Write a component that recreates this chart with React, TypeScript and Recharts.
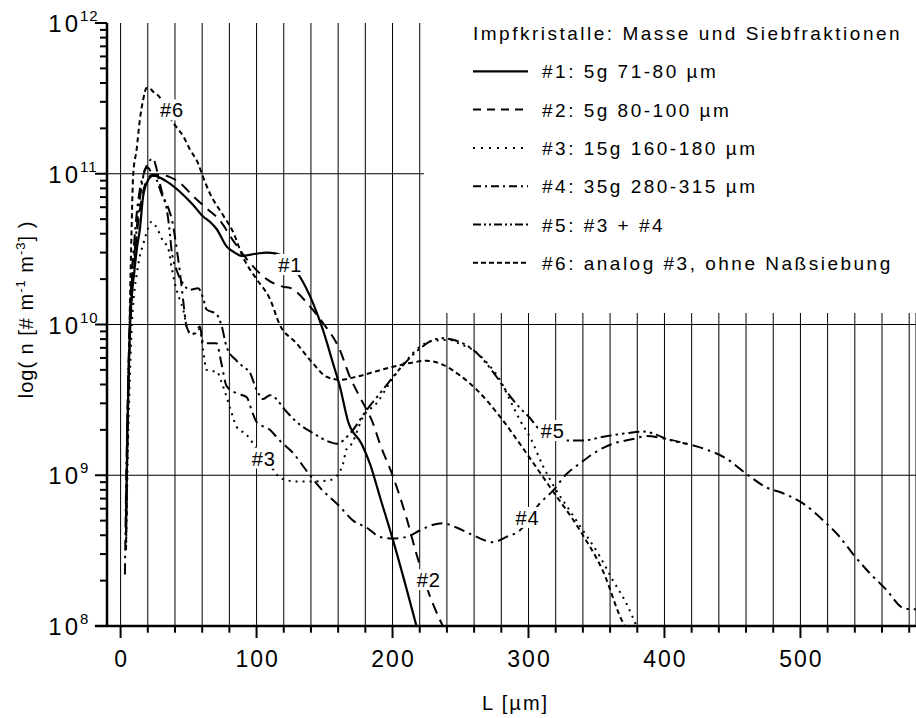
import React from 'react';
import {
  LineChart,
  Line,
  XAxis,
  YAxis,
  CartesianGrid,
  ReferenceLine,
  ReferenceDot,
  Legend,
} from 'recharts';

const FONT = '"Liberation Sans", Arial, Helvetica, sans-serif';

// ---- data: [L (µm), n (# m^-1 m^-3)] ----
const s1: [number, number][] = [
  [4, 5.0e8], [5, 2.0e9], [6, 5.0e9], [7, 1.0e10], [8, 1.45e10], [10, 2.2e10], [12, 3.2e10],
  [14.2, 4.3e10], [16.6, 7.1e10], [20.3, 9.1e10], [24, 9.7e10], [28, 9.5e10], [33.8, 8.9e10],
  [43.6, 7.6e10], [53.4, 6.2e10], [60.7, 5.2e10], [65.7, 4.8e10], [70.6, 4.3e10], [77.9, 3.3e10],
  [84, 3.0e10], [89, 2.85e10], [100, 2.95e10], [107, 3.0e10], [114.7, 2.95e10], [131.8, 2.08e10],
  [141.6, 1.38e10], [149, 9.1e9], [156.3, 5.5e9], [161.2, 3.9e9], [167.4, 2.26e9], [177.2, 1.62e9],
  [183.3, 1.2e9], [190.7, 7.2e8], [200.4, 3.7e8], [217.6, 1.0e8],
];

const s2: [number, number][] = [
  [4, 4.0e8], [5, 1.6e9], [6, 4.5e9], [7, 8.9e9], [8, 1.4e10], [10, 2.5e10], [12, 4.0e10],
  [14, 5.6e10], [17, 7.9e10], [20, 9.3e10], [23, 9.8e10], [26.5, 9.8e10], [30, 9.8e10],
  [36.3, 9.5e10], [43.6, 8.7e10], [53.4, 7.1e10], [63.2, 5.9e10], [73, 4.9e10], [82.8, 3.6e10],
  [95, 2.57e10], [107.4, 2.0e10], [119.6, 1.78e10], [124.6, 1.75e10], [139.2, 1.32e10],
  [149, 1.02e10], [161.2, 6.8e9], [168.6, 4.5e9], [176, 3.3e9], [185.7, 2.2e9], [190.7, 1.62e9],
  [200.4, 9.8e8], [210.3, 5.2e8], [217.6, 3.0e8], [225, 1.82e8], [234.8, 1.1e8], [237, 1.0e8],
];

const s3: [number, number][] = [
  [4, 3.2e8], [5, 1.0e9], [6, 2.5e9], [7, 5.0e9], [8, 8.9e9], [10, 1.6e10], [12, 2.2e10],
  [14, 2.8e10], [17, 3.5e10], [20, 4.3e10], [22.8, 4.8e10], [27.6, 4.2e10], [31, 3.6e10],
  [35, 3.2e10], [37.5, 2.4e10], [40, 1.86e10], [43.6, 1.45e10], [46, 1.26e10], [48.5, 9.8e9],
  [52, 8.5e9], [55, 8.9e9], [58, 9.3e9], [60.7, 6.8e9], [63.2, 5.0e9], [67, 4.9e9], [70.6, 4.9e9],
  [74, 4.2e9], [78, 3.3e9], [81.6, 2.6e9], [85.3, 2.1e9], [92.6, 1.86e9], [100, 1.5e9],
  [106, 1.26e9], [112, 1.1e9], [118, 9.5e8], [130, 9.1e8], [141.6, 9.1e8], [154, 9.3e8],
  [160, 1.02e9], [163.7, 1.2e9], [166, 1.48e9], [170, 1.62e9], [178.4, 2.45e9], [188.2, 3.0e9],
  [198, 4.1e9], [210, 5.75e9], [220, 7.1e9], [230, 7.8e9], [242, 7.9e9], [250, 7.4e9],
  [259, 6.8e9], [270, 5.5e9], [279, 4.3e9], [286, 3.2e9], [294, 2.3e9], [301, 1.8e9],
  [310.7, 1.15e9], [320.6, 7.9e8], [330, 5.9e8], [337.9, 4.6e8], [352.4, 2.9e8], [362.2, 2.0e8],
  [372, 1.41e8], [379.4, 1.0e8],
];

const s4: [number, number][] = [
  [3.2, 2.2e8], [4, 7.9e8], [5, 2.5e9], [6, 6.3e9], [7, 1.26e10], [8, 2.0e10], [10, 3.5e10],
  [12, 5.6e10], [14.2, 7.9e10], [17, 1.0e11], [20, 1.17e11], [24, 1.26e11], [26, 1.12e11],
  [28.5, 8.9e10], [31.3, 7.1e10], [34.9, 6.0e10], [38.5, 4.6e10], [41.2, 3.2e10], [43.7, 2.2e10],
  [46, 1.45e10], [48.5, 9.7e9], [52, 8.7e9], [54.6, 8.7e9], [58.3, 9.7e9], [60.7, 7.5e9],
  [65.7, 7.5e9], [70.6, 7.5e9], [74, 5.6e9], [78, 3.9e9], [85.3, 3.5e9], [92.6, 3.3e9],
  [97, 2.6e9], [100, 2.26e9], [109.8, 2.0e9], [117, 1.7e9], [127, 1.4e9], [136.8, 1.07e9],
  [146.5, 8.3e8], [161.2, 6.2e8], [171, 5.0e8], [180.9, 4.5e8], [190.7, 3.9e8], [200.4, 3.8e8],
  [210.3, 3.9e8], [220, 4.3e8], [229.9, 4.7e8], [237.2, 4.8e8], [247, 4.5e8], [259.3, 4.0e8],
  [274, 3.6e8], [283.8, 3.9e8], [293.6, 4.3e8], [308.3, 6.5e8], [318, 7.9e8], [328, 1.02e9],
  [337.9, 1.2e9], [352.4, 1.48e9], [362.2, 1.62e9], [376.9, 1.74e9], [386.8, 1.82e9],
  [401.5, 1.74e9], [416.2, 1.62e9], [430.9, 1.48e9], [445.6, 1.29e9], [460.3, 1.02e9],
  [475, 8.3e8], [487.2, 7.6e8], [501.9, 6.5e8], [519, 4.8e8], [528.9, 3.9e8], [538.7, 3.0e8],
  [551, 2.24e8], [563.2, 1.74e8], [575.4, 1.32e8], [582.8, 1.29e8], [585, 1.29e8],
];

const s5: [number, number][] = [
  [4, 4.0e8], [5, 2.0e9], [6, 5.6e9], [7, 1.12e10], [8, 1.78e10], [10, 2.8e10], [12, 4.5e10],
  [14, 6.6e10], [16, 8.9e10], [18, 1.07e11], [20, 1.1e11], [23, 1.0e11], [26.5, 9.1e10],
  [30, 7.4e10], [33.8, 5.9e10], [36.3, 4.0e10], [37.5, 3.1e10], [41.2, 2.3e10], [46, 1.86e10],
  [51, 1.7e10], [57, 1.74e10], [60.7, 1.5e10], [63.2, 1.26e10], [70.6, 1.17e10], [74.3, 9.8e9],
  [78, 7.1e9], [85.3, 5.75e9], [90.1, 5.25e9], [95, 4.8e9], [100, 3.7e9], [104.9, 3.2e9],
  [109.8, 3.4e9], [114.7, 3.2e9], [119.6, 2.8e9], [124.5, 2.5e9], [129.4, 2.26e9],
  [141.6, 1.9e9], [153.9, 1.66e9], [158.8, 1.62e9], [168.9, 1.9e9], [180.9, 2.7e9],
  [193, 3.7e9], [203, 4.8e9], [220, 6.9e9], [229.9, 7.9e9], [237.2, 8.1e9], [247, 7.8e9],
  [259.3, 6.8e9], [276.5, 4.5e9], [283.8, 3.6e9], [293.6, 2.8e9], [301, 2.4e9], [308.3, 2.0e9],
  [328, 1.7e9], [340, 1.7e9], [354.9, 1.8e9], [372, 1.9e9], [384.3, 1.95e9], [394, 1.86e9],
  [401.5, 1.74e9], [416.2, 1.62e9],
];

const s6: [number, number][] = [
  [4, 3.2e8], [5, 1.6e9], [6, 5.0e9], [7, 1.58e10], [8, 4.0e10], [9.3, 1.0e11], [11.8, 1.45e11],
  [14.2, 2.3e11], [16.6, 3.1e11], [19.1, 3.7e11], [21, 3.7e11], [24, 3.5e11], [28.9, 3.2e11],
  [33, 2.7e11], [37, 2.3e11], [40, 2.1e11], [46, 1.78e11], [51, 1.45e11], [57, 1.17e11],
  [60.7, 9.5e10], [65.7, 7.4e10], [75.4, 5.3e10], [82.8, 4.1e10], [90, 2.8e10], [100, 2.0e10],
  [109.8, 1.48e10], [117, 1.0e10], [129.4, 7.5e9], [141.6, 5.5e9], [151.5, 4.5e9],
  [161.2, 4.3e9], [173.5, 4.5e9], [188.2, 4.9e9], [200.4, 5.25e9], [215.1, 5.6e9],
  [225, 5.75e9], [237.2, 5.4e9], [249.5, 4.6e9], [261.8, 3.7e9], [279, 2.45e9], [298.5, 1.4e9],
  [316, 8.3e8], [337.9, 4.3e8], [354.9, 2.3e8], [369.6, 1.05e8], [371, 1.0e8],
];

const seriesNames = [
  '#1: 5g 71-80 µm',
  '#2: 5g 80-100 µm',
  '#3: 15g 160-180 µm',
  '#4: 35g 280-315 µm',
  '#5: #3 + #4',
  '#6: analog #3, ohne Naßsiebung',
];
const legendTitle = 'Impfkristalle: Masse und Siebfraktionen';

const curveLabels = [
  { text: '#6', L: 37.5, n: 2.65e11 },
  { text: '#1', L: 124.5, n: 2.5e10 },
  { text: '#3', L: 105, n: 1.3e9 },
  { text: '#2', L: 226.3, n: 2.03e8 },
  { text: '#4', L: 299, n: 5.25e8 },
  { text: '#5', L: 317.5, n: 1.98e9 },
];

const xTicks = [0, 20, 40, 60, 80, 100, 120, 140, 160, 180, 200, 220, 240, 260, 280, 300, 320, 340, 360, 380, 400, 420, 440, 460, 480, 500, 520, 540, 560, 580];
const yDecades = [8, 9, 10, 11, 12];
const yGridLines = [1e9, 1e10, 1e11];

// ---- styles ----
const lineDash = ['', '11 7', '2 5', '11 5 2.5 5', '11 4 2.5 4 2.5 4', '5 3.5'];
const legendDash = ['', '8 6', '2 6', '8 4 2 4', '8 3 2 3 2 3', '5 3'];
const seriesData = [s1, s2, s3, s4, s5, s6].map((s) => s.map(([L, n]) => ({ L, n })));

const yTicks: number[] = [];
yDecades.forEach((d) => {
  if (d === 12) {
    yTicks.push(1e12);
    return;
  }
  for (let m = 1; m <= 9; m++) yTicks.push(m * Math.pow(10, d));
});

const Y_TICK_SIZE = 12;
const Y_TICK_MARGIN = 16;
const X_TICK_SIZE = 12;
const X_TICK_MARGIN = 12;

const YTick = (props: any) => {
  const { x, y, payload } = props;
  const v = payload.value as number;
  const axisX = x + Y_TICK_SIZE + Y_TICK_MARGIN;
  const exp = Math.round(Math.log10(v));
  const isMajor = Math.abs(v - Math.pow(10, exp)) < v * 1e-6;
  if (!isMajor) {
    return <line x1={axisX - 7} x2={axisX} y1={y} y2={y} stroke="#000" strokeWidth={2} />;
  }
  return (
    <g>
      <line x1={axisX - 12} x2={axisX} y1={y} y2={y} stroke="#000" strokeWidth={2} />
      <text x={x + 2} y={y + 9} textAnchor="end" fontSize={24} letterSpacing={3} fontFamily={FONT} fill="#000">
        10
      </text>
      <text x={x + 1} y={y - 2} textAnchor="start" fontSize={15} letterSpacing={1} fontFamily={FONT} fill="#000">
        {exp}
      </text>
    </g>
  );
};

const XTick = (props: any) => {
  const { x, y, payload } = props;
  const v = payload.value as number;
  const axisY = y - X_TICK_SIZE - X_TICK_MARGIN;
  const major = v % 100 === 0;
  return (
    <g>
      <line x1={x} x2={x} y1={axisY} y2={axisY + (major ? 12 : 6.7)} stroke="#000" strokeWidth={2} />
      {major && (
        <text x={x + 1} y={axisY + 41} textAnchor="middle" fontSize={23} letterSpacing={2} fontFamily={FONT} fill="#000">
          {v}
        </text>
      )}
    </g>
  );
};

const YTitle = (props: any) => {
  const vb = props.viewBox || { x: 0, y: 23, width: 107, height: 603 };
  const cx = vb.x + 33;
  const cy = vb.y + vb.height / 2 - 15;
  return (
    <text
      transform={`rotate(-90 ${cx} ${cy})`}
      x={cx}
      y={cy}
      textAnchor="middle"
      fontSize={20}
      letterSpacing={1}
      fontFamily={FONT}
      fill="#000"
    >
      log( n [# m
      <tspan dy={-8} fontSize={13}>-1</tspan>
      <tspan dy={8}> m</tspan>
      <tspan dy={-8} fontSize={13}>-3</tspan>
      <tspan dy={8}>] )</tspan>
    </text>
  );
};

const XTitle = (props: any) => {
  const vb = props.viewBox || { x: 107, y: 626, width: 809, height: 92 };
  return (
    <text
      x={vb.x + vb.width / 2 + 4}
      y={vb.y + 84}
      textAnchor="middle"
      fontSize={20}
      letterSpacing={2}
      fontFamily={FONT}
      fill="#000"
    >
      L [µm]
    </text>
  );
};

const renderLegend = (props: any) => {
  const payload = (props && props.payload) || [];
  return (
    <svg width={492} height={313} style={{ display: 'block', background: '#fff' }}>
      <rect x={0} y={0} width={492} height={313} fill="#fff" />
      <text x={49} y={40} fontSize={19} letterSpacing={2.5} fontFamily={FONT} fill="#000">
        {legendTitle}
      </text>
      {seriesNames.map((nm, i) => {
        const yb = 78.3 + i * 38.3;
        const label = payload[i] && payload[i].value ? payload[i].value : nm;
        return (
          <g key={i}>
            <line
              x1={49}
              x2={104}
              y1={yb - 7}
              y2={yb - 7}
              stroke="#000"
              strokeWidth={i === 0 ? 2.2 : 2}
              strokeDasharray={legendDash[i] || undefined}
            />
            <text x={118} y={yb} fontSize={19} letterSpacing={2.5} fontFamily={FONT} fill="#000">
              {label}
            </text>
          </g>
        );
      })}
    </svg>
  );
};

export default function App() {
  return (
    <div style={{ position: 'absolute', left: 0, top: 0, width: 916, height: 718, background: '#fff', overflow: 'hidden' }}>
      <LineChart width={916} height={718} margin={{ top: 23, right: 0, bottom: 0, left: 0 }}>
        <CartesianGrid horizontal={false} stroke="#000" strokeWidth={1} />
        {yGridLines.map((v) => (
          <ReferenceLine key={v} y={v} stroke="#000" strokeWidth={1} />
        ))}
        <ReferenceLine
          segment={[{ x: -18.9, y: 1e8 }, { x: -10, y: 1e8 }]}
          stroke="#000"
          strokeWidth={2.5}
          ifOverflow="visible"
        />
        <XAxis
          dataKey="L"
          type="number"
          domain={[-10, 585]}
          allowDataOverflow
          ticks={xTicks}
          interval={0}
          height={92}
          tickSize={X_TICK_SIZE}
          tickMargin={X_TICK_MARGIN}
          tickLine={false}
          tick={<XTick />}
          axisLine={{ stroke: '#000', strokeWidth: 2.5 }}
          label={<XTitle />}
        />
        <YAxis
          dataKey="n"
          type="number"
          scale="log"
          domain={[1e8, 1e12]}
          allowDataOverflow
          ticks={yTicks}
          interval={0}
          width={107}
          tickSize={Y_TICK_SIZE}
          tickMargin={Y_TICK_MARGIN}
          tickLine={false}
          tick={<YTick />}
          axisLine={{ stroke: '#000', strokeWidth: 2.5 }}
          label={<YTitle />}
        />
        {seriesData.map((d, i) => (
          <Line
            key={i}
            data={d}
            dataKey="n"
            name={seriesNames[i]}
            type="monotone"
            stroke="#000"
            strokeWidth={i === 0 ? 2.2 : 2}
            strokeDasharray={lineDash[i] || undefined}
            dot={false}
            activeDot={false}
            isAnimationActive={false}
          />
        ))}
        {curveLabels.map((l) => (
          <ReferenceDot
            key={l.text}
            x={l.L}
            y={l.n}
            r={0}
            ifOverflow="visible"
            zIndex={2000}
            shape={(p: any) => (
              <g>
                <rect x={p.cx - 14} y={p.cy - 10.5} width={28} height={21} fill="#fff" />
                <text
                  x={p.cx + 0.5}
                  y={p.cy + 7.5}
                  textAnchor="middle"
                  fontSize={20}
                  letterSpacing={1}
                  fontFamily={FONT}
                  fill="#000"
                >
                  {l.text}
                </text>
              </g>
            )}
          />
        ))}
        <Legend
          content={renderLegend}
          layout="vertical"
          align="center"
          verticalAlign="middle"
          wrapperStyle={{ left: 424, top: 0, width: 492, height: 313, backgroundColor: '#fff' }}
        />
      </LineChart>
    </div>
  );
}
